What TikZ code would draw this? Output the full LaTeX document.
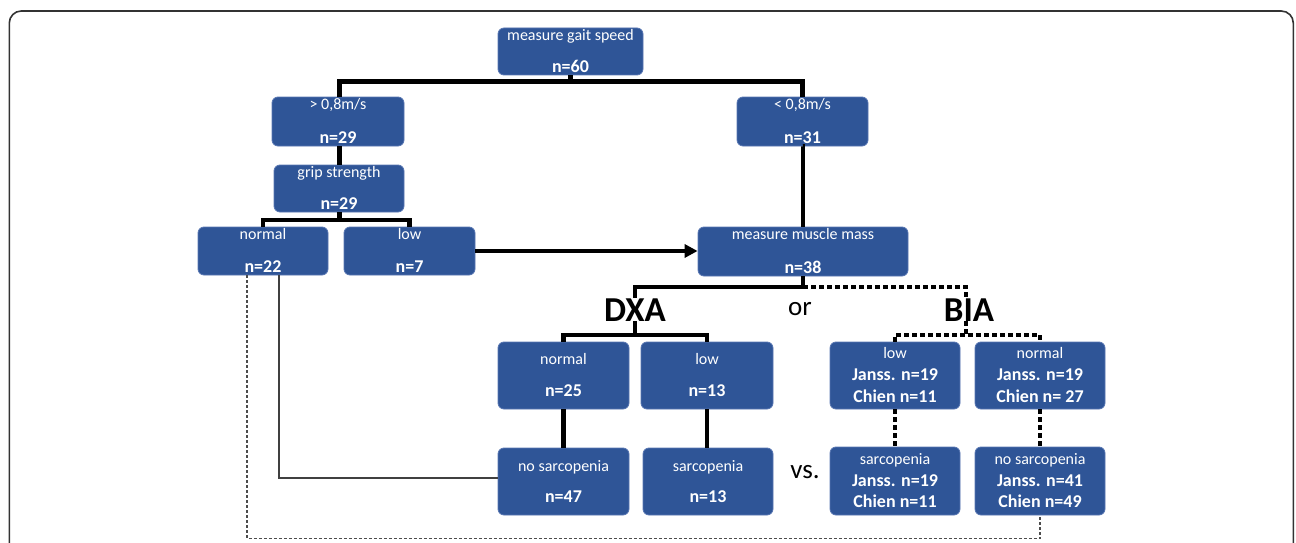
\documentclass[tikz,border=0pt]{standalone}
\usepackage{fontspec}
\setmainfont{Carlito}
\usetikzlibrary{arrows.meta}
\definecolor{boxblue}{RGB}{47,85,151}
\definecolor{boxedge}{RGB}{88,118,178}
\begin{document}
\begin{tikzpicture}[x=1pt,y=-1pt,
  box/.style={draw=boxedge, fill=boxblue, line width=0.8pt, rounded corners=6pt, inner sep=0pt},
  bw/.style={minimum width=131pt},
  lbl/.style={text=white, anchor=base, inner sep=0pt, font=\fontsize{16}{18}\selectfont},
  num/.style={text=white, anchor=base, inner sep=0pt, font=\bfseries\fontsize{18}{20}\selectfont},
  conn/.style={line width=4.2pt},
  dotc/.style={line width=4pt, dash pattern=on 4.5pt off 3.5pt},
  thinc/.style={line width=1.2pt, draw=black!75},
  dashc/.style={line width=1.1pt, draw=black!70, dash pattern=on 3pt off 2pt},
  bigtxt/.style={anchor=base, inner sep=0pt, font=\bfseries\fontsize{35}{40}\selectfont},
  midtxt/.style={anchor=base, inner sep=0pt, font=\fontsize{27}{30}\selectfont},
  framec/.style={line width=1.6pt, draw=black!80, rounded corners=12pt}
]
\useasboundingbox (0,0) rectangle (1296,543);
\draw[framec] (9.3,543) -- (9.3,11) -- (1293.3,11) -- (1293.3,543);

% ---- boxes
\node[box, minimum width=145pt, minimum height=47pt] (gait) at (570.5,51.5) {};
\node[lbl] (gaitL) at ([yshift=-13pt]gait.north) {measure gait speed};
\node[num] (gaitN) at ([yshift=3pt]gait.south) {n=60};

\node[box, minimum width=132pt, minimum height=49pt] (fast) at (338,121.5) {};
\node[lbl] (fastL) at ([yshift=-13pt]fast.north) {> 0,8m/s};
\node[num] (fastN) at ([yshift=3pt]fast.south) {n=29};

\node[box, minimum width=131pt, minimum height=49pt] (slow) at (802.5,121.5) {};
\node[lbl] (slowL) at ([yshift=-13pt]slow.north) {< 0,8m/s};
\node[num] (slowN) at ([yshift=3pt]slow.south) {n=31};

\node[box, minimum width=130pt, minimum height=47pt] (grip) at (339,188.5) {};
\node[lbl] (gripL) at ([yshift=-13pt]grip.north) {grip strength};
\node[num] (gripN) at ([yshift=3pt]grip.south) {n=29};

\node[box, minimum width=130pt, minimum height=48pt] (norm1) at (263,251) {};
\node[lbl] (norm1L) at ([yshift=-13pt]norm1.north) {normal};
\node[num] (norm1N) at ([yshift=3pt]norm1.south) {n=22};

\node[box, minimum width=131pt, minimum height=48pt] (low1) at (409.5,251) {};
\node[lbl] (low1L) at ([yshift=-13pt]low1.north) {low};
\node[num] (low1N) at ([yshift=3pt]low1.south) {n=7};

\node[box, minimum width=210pt, minimum height=49pt] (mm) at (803,251.5) {};
\node[lbl] (mmL) at ([yshift=-13pt]mm.north) {measure muscle mass};
\node[num] (mmN) at ([yshift=3pt]mm.south) {n=38};

% DXA branch
\node[box, bw, minimum height=67pt] (dn) at (563.5,375.5) {};
\node[lbl] (dnL) at ([yshift=-23pt]dn.north) {normal};
\node[num] (dnN) at ([yshift=13pt]dn.south) {n=25};

\node[box, minimum width=132pt, minimum height=67pt] (dl) at (707,375.5) {};
\node[lbl] (dlL) at ([yshift=-23pt]dl.north) {low};
\node[num] (dlN) at ([yshift=13pt]dl.south) {n=13};

\node[box, bw, minimum height=67pt] (dns) at (563.5,481.5) {};
\node[lbl] (dnsL) at ([yshift=-23.5pt]dns.north) {no sarcopenia};
\node[num] (dnsN) at ([yshift=13pt]dns.south) {n=47};

\node[box, minimum width=130pt, minimum height=67pt] (ds) at (708,481.5) {};
\node[lbl] (dsL) at ([yshift=-23.5pt]ds.north) {sarcopenia};
\node[num] (dsN) at ([yshift=13pt]ds.south) {n=13};

% BIA branch
\node[box, minimum width=130pt, minimum height=67pt] (bl) at (895,375.5) {};
\node[lbl] (blL) at ([yshift=-16.5pt]bl.north) {low};
\node[num] (blN1) at ([yshift=-39pt]bl.north) {Janss. n=19};
\node[num] (blN2) at ([yshift=-60.5pt]bl.north) {Chien n=11};

\node[box, minimum width=130pt, minimum height=67pt] (bn) at (1040,375.5) {};
\node[lbl] (bnL) at ([yshift=-16.5pt]bn.north) {normal};
\node[num] (bnN1) at ([yshift=-39pt]bn.north) {Janss. n=19};
\node[num] (bnN2) at ([yshift=-60.5pt]bn.north) {Chien n= 27};

\node[box, minimum width=130pt, minimum height=68pt] (bs) at (895,481) {};
\node[lbl] (bsL) at ([yshift=-18pt]bs.north) {sarcopenia};
\node[num] (bsN1) at ([yshift=-40pt]bs.north) {Janss. n=19};
\node[num] (bsN2) at ([yshift=-61pt]bs.north) {Chien n=11};

\node[box, minimum width=130pt, minimum height=68pt] (bns) at (1040,481) {};
\node[lbl] (bnsL) at ([yshift=-18pt]bns.north) {no sarcopenia};
\node[num] (bnsN1) at ([yshift=-40pt]bns.north) {Janss. n=41};
\node[num] (bnsN2) at ([yshift=-61pt]bns.north) {Chien n=49};

% ---- free texts
\node[bigtxt] (dxa) at (635,321) {DXA};
\node[bigtxt] (bia) at (969,321) {BIA};
\node[midtxt] (ortxt) at (800,315) {or};
\node[midtxt] (vstxt) at (805,478) {vs.};

% ---- junction coordinates
\coordinate (j1) at (572,81.5);
\coordinate (j2) at (803,287);
\coordinate (j3) at (635,335);
\coordinate (j4) at (339,220);
\coordinate (vx) at (339.5,0);
\coordinate (bx) at (966,300);
\coordinate (c1) at (279,478);
\coordinate (c2) at (247,538.5);

% ---- connectors
\draw[conn] (gait.south) -- (gait.south |- j1);
\draw[conn] (vx |- fast.north) |- (slow.north |- j1) -- (slow.north);
\draw[conn] (vx |- fast.south) -- (vx |- grip.north);
\draw[conn] (vx |- grip.south) -- (vx |- j4);
\draw[conn] (norm1.north) |- (low1.north |- j4) -- (low1.north);
\draw[conn, -{Triangle[length=13pt,width=13pt]}] (low1.east) -- (low1.east -| mm.west);
\draw[conn] (slow.south) -- (slow.south -| mm.north) -- (mm.north);
\draw[conn] (mm.south) -- (mm.south |- j2) -- (dxa.north |- j2) -- (dxa.north);
\draw[conn] (dxa.south) -- (dxa.south |- j3);
\draw[conn] (dn.north) |- (dl.north |- j3) -- (dl.north);
\draw[conn] (dn.south) -- (dns.north);
\draw[conn] (dl.south) -- (dl.south |- ds.north);

\draw[dotc] (mm.south |- j2) -- (bx |- j2) -- (bx |- bia.north);
\draw[dotc] (bx |- bia.south) -- (bx |- j3);
\draw[dotc] (bl.north) |- (bn.north |- j3) -- (bn.north);
\draw[dotc] (bl.south) -- (bs.north);
\draw[dotc] (bn.south) -- (bns.north);

\draw[thinc] (norm1.south -| c1) |- (dns.west |- c1);
\draw[dashc] (norm1.south -| c2) |- (bns.south |- c2) -- (bns.south);
\end{tikzpicture}
\end{document}
